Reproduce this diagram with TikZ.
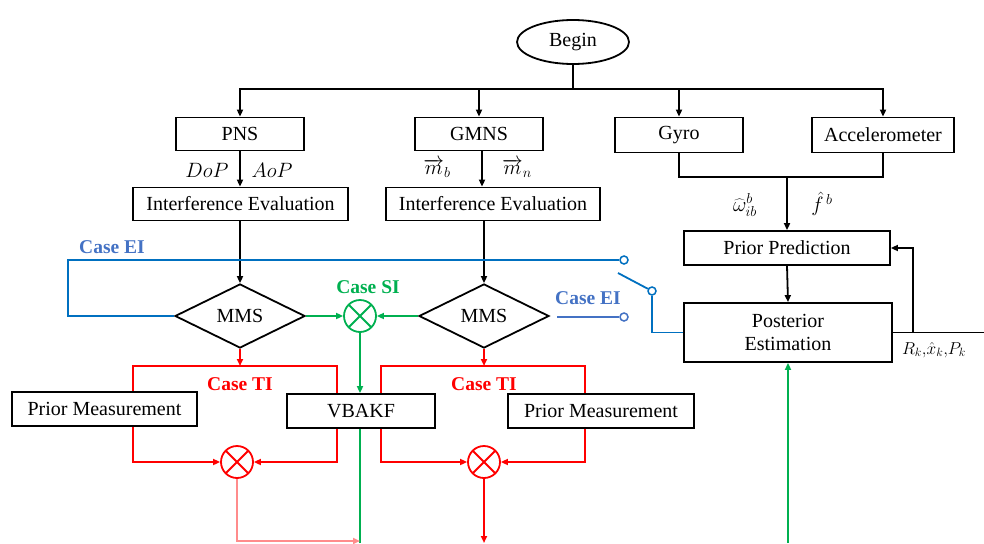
\documentclass[tikz,border=0pt]{standalone}
\usepackage{fontspec}
\setmainfont{Liberation Serif}
\usetikzlibrary{shapes.geometric,arrows.meta}
\definecolor{cred}{RGB}{255,0,0}
\definecolor{cgreen}{RGB}{0,176,80}
\definecolor{cblue}{RGB}{0,112,192}
\definecolor{lblue}{RGB}{68,114,196}
\tikzset{
  box/.style={draw=black,line width=1.8pt,inner sep=0pt,font=\fontsize{20}{23}\selectfont},
  dia/.style={draw=black,line width=1.8pt,diamond,inner sep=0pt,minimum width=130pt,minimum height=64pt,font=\fontsize{20}{23}\selectfont},
  tip/.style={-{Triangle[length=7pt,width=6pt]}},
  bl/.style={line width=1.8pt,black},
  rl/.style={line width=1.8pt,cred},
  gl/.style={line width=1.8pt,cgreen},
  bul/.style={line width=1.8pt,cblue},
  lbul/.style={line width=1.8pt,lblue},
  otimes/.style={circle,draw=#1,line width=1.8pt,minimum size=32pt,inner sep=0pt,
    path picture={\draw[#1,line width=1.8pt] (path picture bounding box.north west) -- (path picture bounding box.south east)
    (path picture bounding box.north east) -- (path picture bounding box.south west);}},
  term/.style={circle,draw=#1,fill=white,line width=1.5pt,minimum size=8pt,inner sep=0pt},
  caselab/.style={font=\bfseries\fontsize{19.5}{22}\selectfont,inner sep=0pt},
  mlab/.style={font=\fontsize{20}{23}\selectfont,inner sep=0pt}
}
\begin{document}
\begin{tikzpicture}[x=1pt,y=-1pt]
\useasboundingbox (0,0) rectangle (984,543);
% nodes
\node[ellipse,draw=black,line width=1.8pt,minimum width=112pt,minimum height=44pt,inner sep=0pt,font=\fontsize{20}{23}\selectfont] (begin) at (573,42) {Begin};
\node[box,minimum width=128pt,minimum height=33pt] (pns) at (240,134) {PNS};
\node[box,minimum width=128pt,minimum height=33pt] (gmns) at (479,134) {GMNS};
\node[box,minimum width=128pt,minimum height=35pt] (gyro) at (679,135) {Gyro};
\node[box,minimum width=142pt,minimum height=35pt] (accel) at (883,135) {Accelerometer};
\node[box,minimum width=215pt,minimum height=33pt] (ie1) at (240.5,204) {Interference Evaluation};
\node[box,minimum width=214pt,minimum height=33pt] (ie2) at (493,204) {Interference Evaluation};
\node[box,minimum width=206pt,minimum height=34pt] (prior) at (787,248) {Prior Prediction};
\node[box,minimum width=208pt,minimum height=59pt,align=center,font=\fontsize{20}{23}\selectfont] (post) at (788,332.5) {Posterior\\Estimation};
\node[dia] (mms1) at (240,316) {MMS};
\node[dia] (mms2) at (484,316) {MMS};
\node[otimes=cgreen] (c0) at (360,316) {};
\node[box,minimum width=148pt,minimum height=34pt] (vbakf) at (361,411) {VBAKF};
\node[box,minimum width=185pt,minimum height=34pt] (pm1) at (104.5,409) {Prior Measurement};
\node[box,minimum width=186pt,minimum height=34pt] (pm2) at (601,411) {Prior Measurement};
\node[otimes=cred] (c1) at (237,462) {};
\node[otimes=cred] (c2) at (484,462) {};
\node[term=cblue] (sw1) at (624,260) {};
\node[term=cblue] (sw2) at (652,291) {};
\node[term=lblue] (sw3) at (624,317) {};
% coordinates
\coordinate (bus) at (573,89);
\coordinate (imu) at (787,177);
\coordinate (fb) at (913,332.5);
\coordinate (outR) at (984,332.5);
\coordinate (gin) at (788,543);
\coordinate (t1) at (133,366);
\coordinate (t2) at (337,366);
\coordinate (t3) at (381,366);
\coordinate (t4) at (585,366);
\coordinate (blc) at (68,260);
\coordinate (lever) at (618,273);
\coordinate (e2) at (557,317);
\coordinate (g1) at (360,543);
\coordinate (r1) at (360,541);
\coordinate (r2) at (484,543);
% black connectors
\draw[bl] (begin.south) -- (bus);
\draw[bl,tip] (bus) -| (pns.north);
\draw[bl,tip] (bus) -| (accel.north);
\draw[bl,tip] (gmns.north |- bus) -- (gmns.north);
\draw[bl,tip] (gyro.north |- bus) -- (gyro.north);
\draw[bl,tip] (pns.south) -- (ie1.north -| pns.south);
\draw[bl,tip] (gmns.south -| 482,0) -- (ie2.north -| 482,0);
\draw[bl,tip] (ie1.south -| mms1.north) -- (mms1.north);
\draw[bl,tip] (ie2.south -| mms2.north) -- (mms2.north);
\draw[bl] (gyro.south) |- (accel.south |- imu) -- (accel.south);
\draw[bl,tip] (imu) -- (prior.north);
\draw[bl,tip] (prior.south) -- (post.north);
\draw[bl] (post.east) -- (outR);
\draw[bl,tip] (fb) |- (prior.east);
% green
\draw[gl,tip] (mms1.east) -- (c0.west);
\draw[gl,tip] (mms2.west) -- (c0.east);
\draw[gl,tip] (c0.south) -- (vbakf.north -| c0.south);
\draw[gl] (vbakf.south -| c0.south) -- (g1);
\draw[gl,tip] (gin) -- (post.south);
% red
\draw[rl,tip] (mms1.south) -- (mms1.south |- t1);
\draw[rl] (t1 |- pm1.north) -- (t1) -- (t2) -- (t2 |- vbakf.north);
\draw[rl,tip] (t1 |- pm1.south) |- (c1.west);
\draw[rl,tip] (t2 |- vbakf.south) |- (c1.east);
\draw[line width=1.8pt,cred!45,tip] (c1.south) |- (r1);
\draw[rl,tip] (mms2.south) -- (mms2.south |- t3);
\draw[rl] (t3 |- vbakf.north) -- (t3) -- (t4) -- (t4 |- pm2.north);
\draw[rl,tip] (t3 |- vbakf.south) |- (c2.west);
\draw[rl,tip] (t4 |- pm2.south) |- (c2.east);
\draw[rl,tip] (c2.south) -- (r2);
% blue
\draw[bul] (mms1.west) -| (blc) -- (sw1.west);
\draw[bul] (lever) -- (sw2);
\draw[bul] (sw2.south) |- (post.west);
\draw[lbul] (e2) -- (sw3.west);
% labels
\node[caselab,text=lblue] (lEI1) at (112,247) {Case EI};
\node[caselab,text=lblue] (lEI2) at (588,298) {Case EI};
\node[caselab,text=cgreen] (lSI) at (368,287) {Case SI};
\node[caselab,text=cred] (lTI1) at (240,384) {Case TI};
\node[caselab,text=cred] (lTI2) at (484,384) {Case TI};
\node[mlab] (dop) at (207,170) {$DoP$};
\node[mlab] (aop) at (272,170) {$AoP$};
\node[mlab] (mb) at (437,168) {$\overrightarrow{m}_b$};
\node[mlab] (mn) at (517,168) {$\overrightarrow{m}_n$};
\node[mlab] (om) at (745,205) {$\widehat{\omega}_{ib}^{b}$};
\node[mlab] (fh) at (822,204) {$\hat{f}^{\,b}$};
\node[mlab,font=\fontsize{17}{20}\selectfont] (rk) at (934,350) {$R_k{,}\hat{x}_k{,}P_k$};
\end{tikzpicture}
\end{document}
